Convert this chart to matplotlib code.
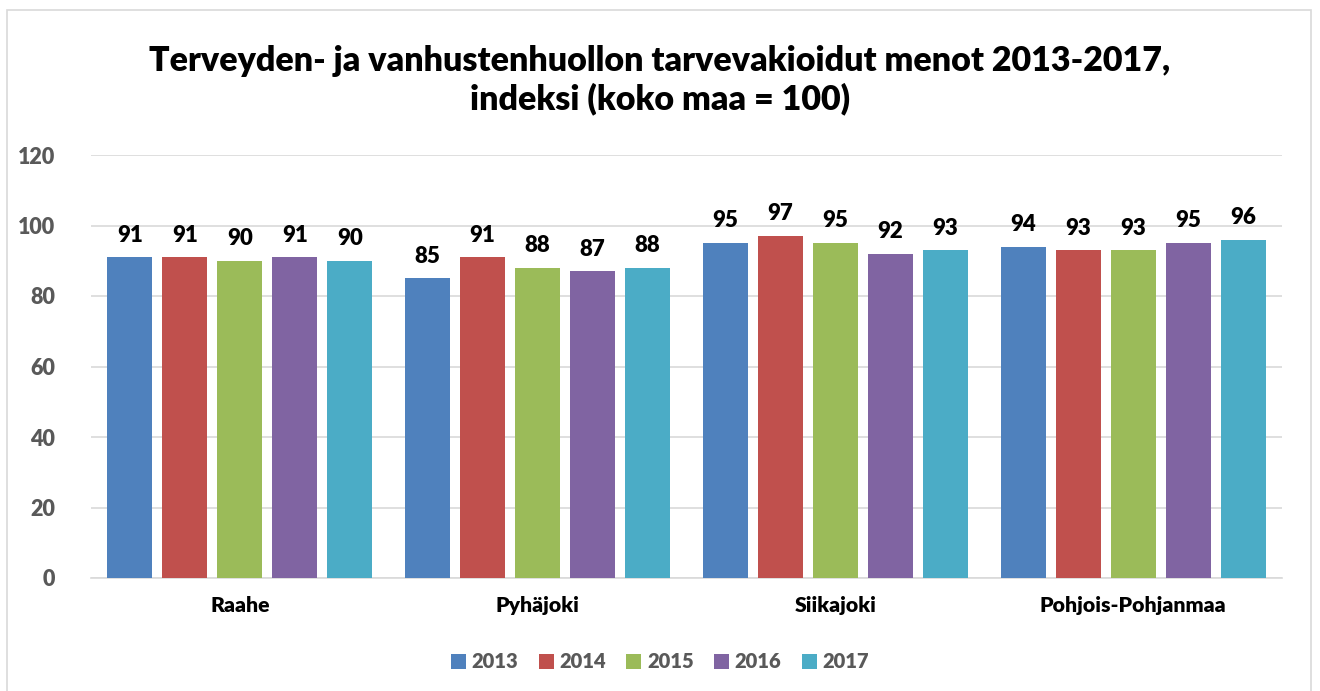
import matplotlib
matplotlib.use("Agg")
import matplotlib.pyplot as plt
from matplotlib.patches import Rectangle
import numpy as np

categories = ["Raahe", "Pyhäjoki", "Siikajoki", "Pohjois-Pohjanmaa"]
years = ["2013", "2014", "2015", "2016", "2017"]
values = {
    "2013": [91, 85, 95, 94],
    "2014": [91, 91, 97, 93],
    "2015": [90, 88, 95, 93],
    "2016": [91, 87, 92, 95],
    "2017": [90, 88, 93, 96],
}
colors = ["#4F81BD", "#C0504D", "#9BBB59", "#8064A2", "#4BACC6"]
title = "Terveyden- ja vanhustenhuollon tarvevakioidut menot 2013-2017,\nindeksi (koko maa = 100)"
yticks = [0, 20, 40, 60, 80, 100, 120]

plt.rcParams['font.family'] = ['Lato', 'DejaVu Sans']
W = "heavy"

fig = plt.figure(figsize=(13.2, 6.91), dpi=100)
fig.patches.append(Rectangle((7/1320, -0.01), (1311-7)/1320, 1.01 - 10/691, transform=fig.transFigure,
                             fill=False, edgecolor="#D9D9D9", linewidth=1.2))
ax = fig.add_axes([91/1320, 1-578/691, (1282-91)/1320, (578-155)/691])

x = np.arange(len(categories))
w = 45/297.75
step = 55/297.75
for i, (yr, c) in enumerate(zip(years, colors)):
    pos = x + (i - 2) * step
    bars = ax.bar(pos, values[yr], width=w, color=c, label=yr, zorder=3)
    for b, v in zip(bars, values[yr]):
        ax.text(b.get_x() + b.get_width()/2, v + 3.3, str(v), ha="center", va="bottom",
                fontsize=16, fontweight=W, color="black")

ax.set_xlim(-0.5, 3.5)
ax.set_ylim(0, 120)
ax.set_yticks(yticks)
ax.set_yticklabels([str(t) for t in yticks], fontsize=15.5, fontweight=W, color="#595959")
ax.set_xticks(x)
ax.set_xticklabels(categories, fontsize=15.3, fontweight=W, color="black")
ax.tick_params(axis="both", length=0)
ax.tick_params(axis="y", pad=26)
ax.tick_params(axis="x", pad=13)
ax.yaxis.grid(True, color="#D9D9D9", linewidth=1.2, zorder=0)
for s in ["left", "right", "top"]:
    ax.spines[s].set_visible(False)
ax.spines["bottom"].set_color("#D9D9D9")
ax.spines["bottom"].set_linewidth(1.2)

fig.text(0.5, 1-80/691, title, ha="center", va="center", fontsize=24.5, fontweight=W,
         linespacing=1.2)

leg = fig.legend(loc="center", bbox_to_anchor=(0.5, 1-662/691), ncol=5, frameon=False,
                 prop={"size": 14.5, "weight": W}, handlelength=0.75, handleheight=0.75,
                 handletextpad=0.27, columnspacing=1.02)
for t in leg.get_texts():
    t.set_color("#595959")

fig.savefig("out.png", dpi=100)
